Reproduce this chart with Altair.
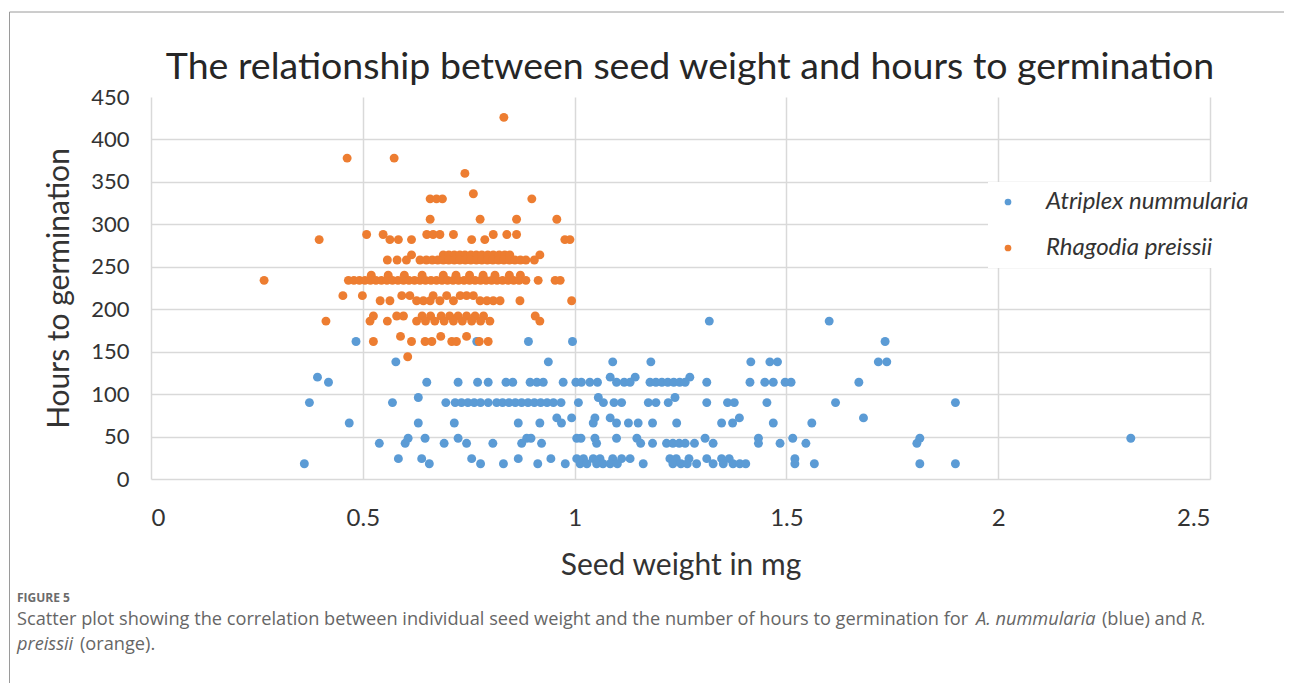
import altair as alt
import pandas as pd

# ---------------- data ----------------
species = ["Atriplex nummularia", "Rhagodia preissii"]
species_colors = ["#5B9BD5", "#ED7D31"]

# hours-to-germination levels (rows of points) and the seed weights (mg) on each
atriplex_hours = [186, 162, 138, 120, 114, 96, 90, 72, 66, 48, 42, 24, 18]
atriplex_weights = [
    [1.318, 1.601],
    [0.484, 0.769, 0.891, 0.995, 1.733],
    [0.578, 0.938, 1.090, 1.180, 1.416, 1.461, 1.479, 1.717, 1.737],
    [0.393, 1.084, 1.143, 1.272],
    [0.419, 0.651, 0.725, 0.771, 0.796, 0.838, 0.854, 0.895, 0.911, 0.926, 0.973,
     1.003, 1.016, 1.036, 1.054, 1.099, 1.117, 1.131, 1.178, 1.192, 1.206, 1.220,
     1.234, 1.248, 1.261, 1.312, 1.414, 1.449, 1.469, 1.497, 1.511, 1.671],
    [0.631, 1.056, 1.237],
    [0.374, 0.570, 0.696, 0.718, 0.733, 0.748, 0.763, 0.778, 0.796, 0.816, 0.830,
     0.845, 0.860, 0.875, 0.890, 0.905, 0.920, 0.935, 0.950, 0.968, 1.009, 1.068,
     1.093, 1.111, 1.174, 1.192, 1.221, 1.312, 1.361, 1.377, 1.454, 1.616, 1.899],
    [0.958, 0.993, 1.048, 1.084, 1.389, 1.682],
    [0.468, 0.631, 0.716, 0.867, 0.918, 0.969, 1.044, 1.099, 1.127, 1.150, 1.184,
     1.241, 1.347, 1.373, 1.469, 1.560],
    [0.607, 0.647, 0.725, 0.887, 0.897, 1.005, 1.015, 1.048, 1.099, 1.147, 1.308,
     1.434, 1.515, 1.815, 2.313],
    [0.539, 0.600, 0.692, 0.745, 0.807, 0.875, 0.922, 1.052, 1.156, 1.184, 1.217,
     1.232, 1.247, 1.261, 1.283, 1.327, 1.434, 1.485, 1.546, 1.808],
    [0.584, 0.639, 0.757, 0.867, 0.944, 1.005, 1.021, 1.044, 1.060, 1.090, 1.111,
     1.131, 1.225, 1.240, 1.270, 1.312, 1.347, 1.365, 1.520],
    [0.362, 0.657, 0.778, 0.832, 0.913, 0.978, 1.013, 1.029, 1.052, 1.067, 1.084,
     1.101, 1.162, 1.232, 1.251, 1.266, 1.288, 1.327, 1.351, 1.374, 1.390, 1.404,
     1.520, 1.566, 1.815, 1.899],
]

rhagodia_hours = [426, 378, 360, 336, 330, 306, 288, 282, 264, 258, 240, 234,
                  216, 210, 192, 186, 168, 162, 144]
rhagodia_weights = [
    [0.833],
    [0.463, 0.574],
    [0.741],
    [0.761],
    [0.659, 0.674, 0.688, 0.899],
    [0.659, 0.777, 0.863, 0.958],
    [0.509, 0.548, 0.651, 0.666, 0.682, 0.714, 0.808, 0.840, 0.863],
    [0.397, 0.564, 0.584, 0.615, 0.757, 0.788, 0.977, 0.989],
    [0.615, 0.690, 0.703, 0.716, 0.729, 0.741, 0.755, 0.768, 0.781, 0.795, 0.808,
     0.822, 0.835, 0.847, 0.918],
    [0.558, 0.581, 0.603, 0.635, 0.650, 0.664, 0.677, 0.690, 0.703, 0.716, 0.729,
     0.742, 0.755, 0.768, 0.781, 0.794, 0.807, 0.820, 0.833, 0.846, 0.859, 0.872,
     0.885, 0.905],
    [0.520, 0.560, 0.598, 0.640, 0.690, 0.720, 0.752, 0.784, 0.812, 0.846, 0.872],
    [0.267, 0.466, 0.479, 0.492, 0.505, 0.518, 0.531, 0.544, 0.557, 0.570, 0.583,
     0.596, 0.609, 0.622, 0.635, 0.648, 0.661, 0.674, 0.687, 0.700, 0.713, 0.726,
     0.739, 0.752, 0.765, 0.778, 0.791, 0.804, 0.817, 0.830, 0.843, 0.856, 0.869,
     0.885, 0.914, 0.954, 0.966],
    [0.453, 0.499, 0.592, 0.611, 0.666, 0.698, 0.730, 0.745, 0.761],
    [0.541, 0.564, 0.627, 0.643, 0.659, 0.682, 0.714, 0.777, 0.793, 0.808, 0.824,
     0.871, 0.993],
    [0.525, 0.580, 0.596, 0.640, 0.660, 0.685, 0.705, 0.725, 0.745, 0.765, 0.785,
     0.907],
    [0.413, 0.517, 0.558, 0.627, 0.648, 0.670, 0.692, 0.714, 0.735, 0.757, 0.778,
     0.800, 0.918],
    [0.589, 0.684, 0.745],
    [0.525, 0.615, 0.647, 0.663, 0.710, 0.721, 0.775, 0.796],
    [0.606],
]

x_ticks = [0, 0.5, 1, 1.5, 2, 2.5]
y_ticks = [0, 50, 100, 150, 200, 250, 300, 350, 400, 450]

title_text = "The relationship between seed weight and hours to germination"
x_title = "Seed weight in mg"
y_title = "Hours to germination"
caption_label = "FIGURE 5"
caption_1a = ("Scatter plot showing the correlation between individual seed weight "
              "and the number of hours to germination for")
caption_1b = "A. nummularia"
caption_1c = "(blue) and"
caption_1d = "R."
caption_2a = "preissii"
caption_2b = "(orange)."

# ---------------- build table ----------------
rows = []
for name, hours, weights in [(species[0], atriplex_hours, atriplex_weights),
                             (species[1], rhagodia_hours, rhagodia_weights)]:
    for h, ws in zip(hours, weights):
        for w in ws:
            rows.append({"species": name, "weight": w, "hours": h})
df = pd.DataFrame(rows)

FONT = "Lato"
TXT = "#333333"
GRID = "#D9D9D9"

points = alt.Chart(df).mark_circle(size=80, opacity=1).encode(
    x=alt.X("weight:Q", title=x_title,
            scale=alt.Scale(domain=[0, 2.5], nice=False),
            axis=alt.Axis(values=x_ticks, labelExpr="datum.value + ''",
                          domain=False, ticks=False, grid=True,
                          gridColor=GRID, gridWidth=1.5,
                          labelFont=FONT, labelFontSize=24, labelColor=TXT,
                          labelPadding=27, titleFont=FONT, titleFontSize=30,
                          titleFontWeight="normal", titleColor=TXT,
                          titlePadding=20)),
    y=alt.Y("hours:Q", title=y_title,
            scale=alt.Scale(domain=[0, 450], nice=False),
            axis=alt.Axis(values=y_ticks, domain=False, ticks=False, grid=True,
                          gridColor=GRID, gridWidth=1.5,
                          gridOpacity=alt.condition("datum.value == 450",
                                                    alt.value(0), alt.value(1)),
                          labelFont=FONT, labelFontSize=22, labelColor=TXT,
                          labelPadding=22, titleFont=FONT, titleFontSize=30,
                          titleFontWeight="normal", titleColor=TXT,
                          titlePadding=16)),
    color=alt.Color("species:N",
                    scale=alt.Scale(domain=species, range=species_colors),
                    legend=alt.Legend(title=None, orient="none",
                                      legendX=837, legendY=85, padding=8,
                                      fillColor="white", symbolType="circle",
                                      symbolSize=45, labelFont=FONT,
                                      labelFontSize=24, labelFontStyle="italic",
                                      labelColor=TXT, labelOffset=26,
                                      labelLimit=400, rowPadding=22)),
)

one = pd.DataFrame({"k": [0]})

border = alt.Chart(one).mark_rect(fill="white", fillOpacity=0, stroke="#9a9a9a",
                                  strokeWidth=1).encode(
    x=alt.value(-141.5), x2=alt.value(1400),
    y=alt.value(-85), y2=alt.value(900))

title = alt.Chart(one).mark_text(text=title_text, align="center",
                                 baseline="alphabetic", font=FONT, fontSize=37.5,
                                 color="#262626").encode(
    x=alt.value(539), y=alt.value(-18))

def cap(text, x, y, size=18.2, style="normal", weight="normal", color="#666666",
        font="Open Sans"):
    return alt.Chart(one).mark_text(text=text, align="left", baseline="middle",
                                    font=font, fontSize=size, fontStyle=style,
                                    fontWeight=weight, color=color).encode(
        x=alt.value(x), y=alt.value(y))

captions = [
    cap(caption_label, -134, 501, size=12, weight="bold", color="#6b6b6b"),
    cap(caption_1a, -134, 523),
    cap(caption_1b, 825, 523, style="italic"),
    cap(caption_1c, 951, 523),
    cap(caption_1d, 1040, 523, style="italic"),
    cap(caption_2a, -134, 548, style="italic"),
    cap(caption_2b, -71, 548),
]

chart = alt.layer(border, title, points, *captions).properties(
    width=1059, height=382,
    autosize=alt.AutoSizeParams(type="none"),
    padding={"left": 143, "top": 89, "right": 74, "bottom": 204},
).configure_view(stroke=None)

chart.save("out.html", embed_options={"renderer": "svg", "actions": False})
